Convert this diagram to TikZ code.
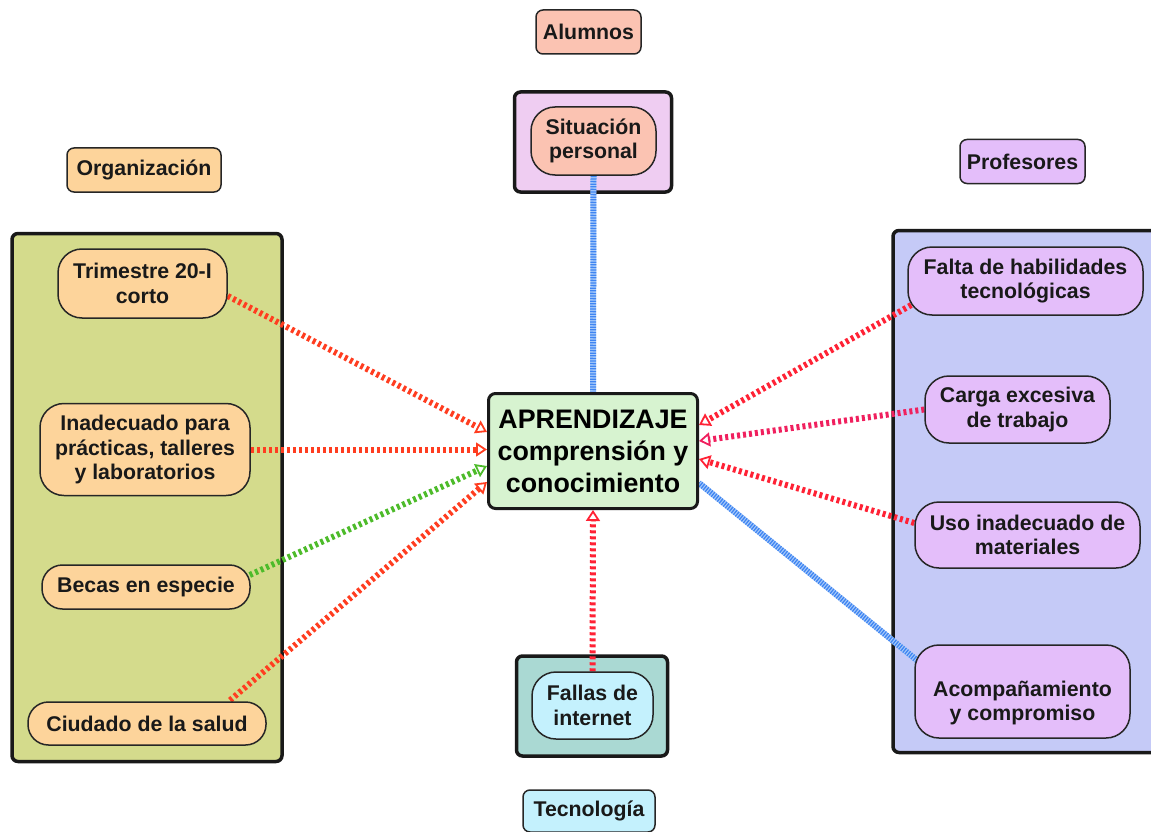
\documentclass[tikz,border=0pt]{standalone}
\usepackage{fontspec}
\setmainfont{Liberation Sans}
\usetikzlibrary{arrows.meta}
\pgfdeclarelayer{back}
\pgfdeclarelayer{conn}
\pgfsetlayers{back,conn,main}
\definecolor{cgreenbox}{HTML}{D4DB8C}
\definecolor{cbluebox}{HTML}{C5CAF7}
\definecolor{cpinkbox}{HTML}{EFCDF2}
\definecolor{ctealbox}{HTML}{AAD9D3}
\definecolor{cpeach}{HTML}{FDD49B}
\definecolor{csalmon}{HTML}{FBC3B2}
\definecolor{cpurple}{HTML}{E4BEFA}
\definecolor{ccyan}{HTML}{C4F1FD}
\definecolor{ccenter}{HTML}{D7F3D0}
\definecolor{lnorange}{HTML}{FF3D20}
\definecolor{lnred}{HTML}{FF2235}
\definecolor{lnpink}{HTML}{F0205E}
\definecolor{lngreen}{HTML}{4DBB2A}
\definecolor{lnblue}{HTML}{3F85F2}
\definecolor{lnbluelight}{HTML}{A9CBFA}
\begin{document}
\begin{tikzpicture}[x=1pt,y=-1pt,
  txt/.style={font=\fontsize{21.3}{24.5}\selectfont\bfseries, align=center, inner sep=0pt, text=black!90},
  sz/.style 2 args={minimum width=#1, minimum height=#2},
  container/.style={draw=black!90, line width=3.5pt, rounded corners=6pt, inner sep=0pt},
  pill/.style={txt, draw=black!85, line width=1.5pt, rounded corners=24pt},
  pillthin/.style={txt, draw=black!85, line width=1.5pt, rounded corners=20.5pt},
  tag/.style={txt, draw=black!85, line width=1.5pt, rounded corners=7pt},
  centerbox/.style={font=\fontsize{26.8}{32}\selectfont\bfseries, align=center, inner sep=0pt,
     draw=black!90, line width=3pt, rounded corners=7pt, fill=ccenter},
  redline/.style={draw=#1, line width=6pt, dash pattern=on 3pt off 3pt},
  blueline/.style={draw=lnblue, line width=6pt, dash pattern=on 1.3pt off 1.3pt,
     preaction={draw=lnbluelight, line width=6pt}},
  tipA/.style={-{Triangle[open,length=11pt,width=14pt,line width=1.8pt]}}
]
\useasboundingbox (0,0) rectangle (1151,832);

% containers
\begin{pgfonlayer}{back}
\node[container, fill=cgreenbox, sz={270pt}{528pt}] (orgbox) at (147,497.5) {};
\node[container, fill=cbluebox, sz={272pt}{522pt}] (profbox) at (1029,491.5) {};
\node[container, fill=cpinkbox, sz={157pt}{100pt}] (alumbox) at (593,142) {};
\node[container, fill=ctealbox, sz={151pt}{100pt}] (tecbox) at (592,706) {};
\end{pgfonlayer}

% category labels
\node[tag, fill=csalmon, sz={105pt}{44pt}] (alumnos) at (588.5,32) {Alumnos};
\node[tag, fill=cpeach, sz={154pt}{44pt}] (organiz) at (144,170) {Organización};
\node[tag, fill=cpurple, sz={125pt}{44pt}] (profes) at (1022.5,161.5) {Profesores};
\node[tag, fill=ccyan, sz={132pt}{42pt}] (tecno) at (589,811) {Tecnología};

% center
\node[centerbox, sz={209pt}{115pt}] (center) at (593,451) {APRENDIZAJE\\comprensión y\\conocimiento};

% inner nodes
\node[pill, fill=csalmon, sz={125pt}{68pt}] (sit) at (593.5,141) {Situación\\personal};
\node[pill, fill=ccyan, sz={121pt}{67pt}] (fallas) at (592.5,705.5) {Fallas de\\internet};

\node[pill, fill=cpeach, sz={169pt}{69pt}] (trim) at (142.5,283.5) {Trimestre 20-I\\corto};
\node[pill, fill=cpeach, sz={210pt}{92pt}] (inad) at (145,449.5) {Inadecuado para\\prácticas, talleres\\y laboratorios};
\node[pillthin, fill=cpeach, sz={208pt}{44pt}] (becas) at (146,587) {Becas en especie};
\node[pillthin, fill=cpeach, sz={238pt}{43pt}] (ciud) at (147,723.5) {Ciudado de la salud};

\node[pill, fill=cpurple, sz={235pt}{68pt}] (falta) at (1025.5,281) {Falta de habilidades\\tecnológicas};
\node[pill, fill=cpurple, sz={185pt}{67pt}] (carga) at (1017.5,409.5) {Carga excesiva\\de trabajo};
\node[pill, fill=cpurple, sz={225pt}{66pt}] (uso) at (1027.5,535) {Uso inadecuado de\\materiales};
\node[pill, fill=cpurple, sz={215pt}{93pt}] (acomp) at (1022.5,691.5) {};
\node[txt] (acomptxt) at (1022.5,703) {Acompañamiento\\y compromiso};

% connectors
\begin{pgfonlayer}{conn}
\draw[redline=lnorange, tipA] ([yshift=-12.5pt]trim.east) -- ([yshift=19pt]center.west);
\draw[redline=lnorange, tipA] (inad.east) -- (center.west |- inad.east);
\draw[redline=lngreen, tipA] ([xshift=-1pt,yshift=12pt]becas.east) -- ([yshift=-15pt]center.west);
\draw[redline=lnorange, tipA] ([xshift=83pt,yshift=1pt]ciud.north) -- ([yshift=-31pt]center.west);
\draw[blueline] (sit.south) -- (center.north);
\draw[redline=lnred, tipA] (fallas.north) -- (center.south);
\draw[redline=lnred, tipA] ([xshift=4pt,yshift=-24pt]falta.west) -- ([yshift=26pt]center.east);
\draw[redline=lnpink, tipA] (carga.west) -- ([yshift=10pt]center.east);
\draw[redline=lnred, tipA] ([yshift=12pt]uso.west) -- ([yshift=-8pt]center.east);
\draw[blueline] ([xshift=3pt,yshift=31pt]acomp.west) -- ([yshift=-32pt]center.east);
\end{pgfonlayer}
\end{tikzpicture}
\end{document}
